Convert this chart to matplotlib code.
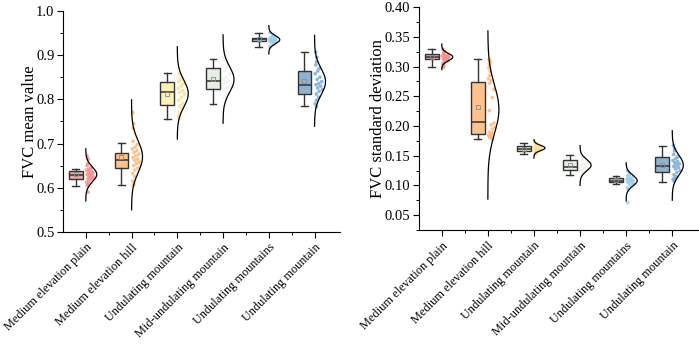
import numpy as np
import matplotlib
matplotlib.use("Agg")
import matplotlib.pyplot as plt
from matplotlib.ticker import MultipleLocator, FixedLocator, FormatStrFormatter
from matplotlib.transforms import ScaledTranslation

plt.rcParams['font.family'] = ['Liberation Serif', 'DejaVu Serif']

categories = ["Medium elevation plain", "Medium elevation hill", "Undulating mountain",
              "Mid-undulating mountain", "Undulating mountains", "Undulating mountain"]

box_colors = ["#F4A7A1", "#FDC28E", "#FBF0B8", "#E6EDE2", "#A8D0E6", "#8FB2D0"]
pt_colors = ["#F2908E", "#FDB97C", "#FCE08A", "#EEF3EA", "#9DCDEB", "#7DAAD8"]

# ---- Left panel: FVC mean value ----
mean_whislo = [0.603, 0.605, 0.755, 0.790, 0.918, 0.784]
mean_q1     = [0.620, 0.644, 0.787, 0.823, 0.931, 0.812]
mean_med    = [0.628, 0.662, 0.816, 0.842, 0.936, 0.833]
mean_q3     = [0.637, 0.679, 0.840, 0.872, 0.940, 0.864]
mean_whishi = [0.643, 0.702, 0.859, 0.891, 0.951, 0.907]
mean_mean   = [0.631, 0.669, 0.813, 0.847, 0.936, 0.842]
mean_curve_mu = [0.630, 0.670, 0.813, 0.845, 0.935, 0.840]
mean_curve_lo = [0.570, 0.550, 0.710, 0.746, 0.903, 0.739]
mean_curve_hi = [0.688, 0.799, 0.919, 0.946, 0.967, 0.945]
mean_points = [
    [0.672, 0.665, 0.655, 0.650, 0.645, 0.642, 0.640, 0.638, 0.636, 0.634, 0.632, 0.630,
     0.628, 0.626, 0.624, 0.622, 0.620, 0.618, 0.615, 0.612, 0.608, 0.605, 0.590],
    [0.770, 0.745, 0.735, 0.705, 0.698, 0.692, 0.688, 0.684, 0.680, 0.676, 0.672, 0.668,
     0.665, 0.662, 0.658, 0.655, 0.650, 0.645, 0.640, 0.632, 0.625, 0.615, 0.608, 0.605],
    [0.858, 0.850, 0.845, 0.840, 0.835, 0.830, 0.825, 0.820, 0.816, 0.812, 0.805, 0.798,
     0.790, 0.785, 0.778, 0.770, 0.762, 0.756],
    [0.891, 0.880, 0.872, 0.865, 0.858, 0.850, 0.845, 0.842, 0.838, 0.832, 0.826, 0.823,
     0.815, 0.805, 0.790],
    [0.951, 0.946, 0.943, 0.940, 0.938, 0.937, 0.936, 0.935, 0.934, 0.933, 0.932, 0.931,
     0.930, 0.928, 0.925, 0.920, 0.918],
    [0.907, 0.895, 0.885, 0.878, 0.870, 0.864, 0.858, 0.850, 0.845, 0.840, 0.836, 0.833,
     0.830, 0.826, 0.822, 0.818, 0.812, 0.805, 0.798, 0.790, 0.784],
]

# ---- Right panel: FVC standard deviation ----
sd_whislo = [0.299, 0.178, 0.153, 0.117, 0.102, 0.105]
sd_q1     = [0.312, 0.187, 0.158, 0.126, 0.106, 0.122]
sd_med    = [0.317, 0.207, 0.161, 0.131, 0.108, 0.133]
sd_q3     = [0.321, 0.274, 0.166, 0.143, 0.112, 0.148]
sd_whishi = [0.329, 0.312, 0.172, 0.152, 0.116, 0.166]
sd_mean   = [0.316, 0.232, 0.162, 0.134, 0.109, 0.135]
sd_curve_mu = [0.316, 0.228, 0.163, 0.134, 0.108, 0.134]
sd_curve_lo = [0.295, 0.077, 0.146, 0.100, 0.074, 0.075]
sd_curve_hi = [0.338, 0.360, 0.177, 0.167, 0.138, 0.192]
sd_points = [
    [0.329, 0.326, 0.324, 0.322, 0.320, 0.319, 0.318, 0.317, 0.316, 0.315, 0.314, 0.313,
     0.312, 0.311, 0.310, 0.308, 0.305, 0.302, 0.299],
    [0.312, 0.308, 0.304, 0.298, 0.292, 0.285, 0.280, 0.276, 0.272, 0.262, 0.248, 0.226,
     0.205, 0.202, 0.198, 0.195, 0.190, 0.188, 0.186, 0.184, 0.182, 0.180, 0.178],
    [0.172, 0.170, 0.168, 0.166, 0.165, 0.164, 0.163, 0.162, 0.161, 0.160, 0.159, 0.158,
     0.157, 0.155, 0.153],
    [0.152, 0.148, 0.145, 0.142, 0.139, 0.136, 0.133, 0.131, 0.129, 0.127, 0.126, 0.124,
     0.121, 0.117],
    [0.125, 0.122, 0.118, 0.116, 0.114, 0.112, 0.111, 0.110, 0.109, 0.108, 0.107, 0.106,
     0.105, 0.104, 0.102, 0.100, 0.096, 0.092, 0.071],
    [0.167, 0.162, 0.158, 0.152, 0.148, 0.145, 0.142, 0.140, 0.138, 0.136, 0.134, 0.132,
     0.130, 0.128, 0.125, 0.122, 0.118, 0.115, 0.112, 0.110, 0.107],
]

BOX_OFF = -0.22
BOX_W = 0.30
CURVE_W = 0.24
edge = "#333333"


def draw_panel(fig, ax, whislo, q1, med, q3, whishi, mean, mu, lo, hi, points):
    n = len(categories)
    pos = np.arange(1, n + 1)
    stats = []
    for i in range(n):
        stats.append(dict(whislo=whislo[i], q1=q1[i], med=med[i], q3=q3[i],
                          whishi=whishi[i], mean=mean[i], fliers=[]))
    bp = ax.bxp(stats, positions=pos + BOX_OFF, widths=BOX_W, patch_artist=True,
                showmeans=True, showfliers=False, capwidths=0.15,
                boxprops=dict(edgecolor=edge, linewidth=1.0),
                medianprops=dict(color=edge, linewidth=1.1),
                whiskerprops=dict(color=edge, linewidth=1.0),
                capprops=dict(color=edge, linewidth=1.0),
                meanprops=dict(marker="s", markersize=3, markerfacecolor="none",
                               markeredgecolor="#8a8a8a", markeredgewidth=0.6))
    for patch, c in zip(bp["boxes"], box_colors):
        patch.set_facecolor(c)
    golden = 0.6180339887
    for i in range(n):
        sig = (hi[i] - lo[i]) / 7.0
        yy = np.linspace(lo[i], hi[i], 300)
        ww = CURVE_W * np.exp(-0.5 * ((yy - mu[i]) / sig) ** 2)
        ax.plot(pos[i] + ww, yy, color="black", linewidth=0.9, zorder=3)
        pts = np.array(points[i])
        frac = (np.arange(len(pts)) * golden + 0.3) % 1.0
        wmax = CURVE_W * np.exp(-0.5 * ((pts - mu[i]) / sig) ** 2)
        wmax = np.clip(wmax, 0.06, 0.2)
        xs = pos[i] + 0.015 + frac * (wmax * 0.9 - 0.015)
        ax.scatter(xs, pts, s=7, color=pt_colors[i], edgecolors="none", alpha=0.85, zorder=2)
    ax.set_xlim(0.5, 6.55)
    ax.xaxis.set_major_locator(FixedLocator(pos))
    ax.xaxis.set_minor_locator(FixedLocator(pos[:-1] + 0.5))
    ax.set_xticklabels(categories, rotation=45, ha="right", va="top",
                       rotation_mode="anchor", fontsize=8.8)
    shift = ScaledTranslation(5 / 100, 0, fig.dpi_scale_trans)
    for lab in ax.get_xticklabels():
        lab.set_transform(lab.get_transform() + shift)
    for s in ["top", "right"]:
        ax.spines[s].set_visible(False)
    for s in ["left", "bottom"]:
        ax.spines[s].set_linewidth(0.8)
    ax.tick_params(axis="y", which="major", direction="out", length=4, width=0.8,
                   labelsize=10.5, pad=2)
    ax.tick_params(axis="both", which="minor", direction="out", length=2, width=0.7)
    ax.tick_params(axis="x", which="major", direction="out", length=4, width=0.8,
                   labelsize=8.8, pad=3)


fig = plt.figure(figsize=(6.99, 3.44), dpi=100)
ax1 = fig.add_axes([0.090, 0.326, 0.396, 0.642])
ax2 = fig.add_axes([0.599, 0.331, 0.399, 0.648])

draw_panel(fig, ax1, mean_whislo, mean_q1, mean_med, mean_q3, mean_whishi, mean_mean,
           mean_curve_mu, mean_curve_lo, mean_curve_hi, mean_points)
ax1.set_ylim(0.5, 1.0)
ax1.yaxis.set_major_locator(MultipleLocator(0.1))
ax1.yaxis.set_minor_locator(MultipleLocator(0.05))
ax1.yaxis.set_major_formatter(FormatStrFormatter("%.1f"))
ax1.set_ylabel("FVC mean value", fontsize=12)
ax1.yaxis.set_label_coords(-0.090, 0.5)

draw_panel(fig, ax2, sd_whislo, sd_q1, sd_med, sd_q3, sd_whishi, sd_mean,
           sd_curve_mu, sd_curve_lo, sd_curve_hi, sd_points)
ax2.set_ylim(0.0247, 0.40)
ax2.yaxis.set_major_locator(MultipleLocator(0.05))
ax2.yaxis.set_minor_locator(MultipleLocator(0.025))
ax2.yaxis.set_major_formatter(FormatStrFormatter("%.2f"))
ax2.set_ylabel("FVC standard deviation", fontsize=12)
ax2.yaxis.set_label_coords(-0.118, 0.5)

fig.savefig("out.png", dpi=100)
